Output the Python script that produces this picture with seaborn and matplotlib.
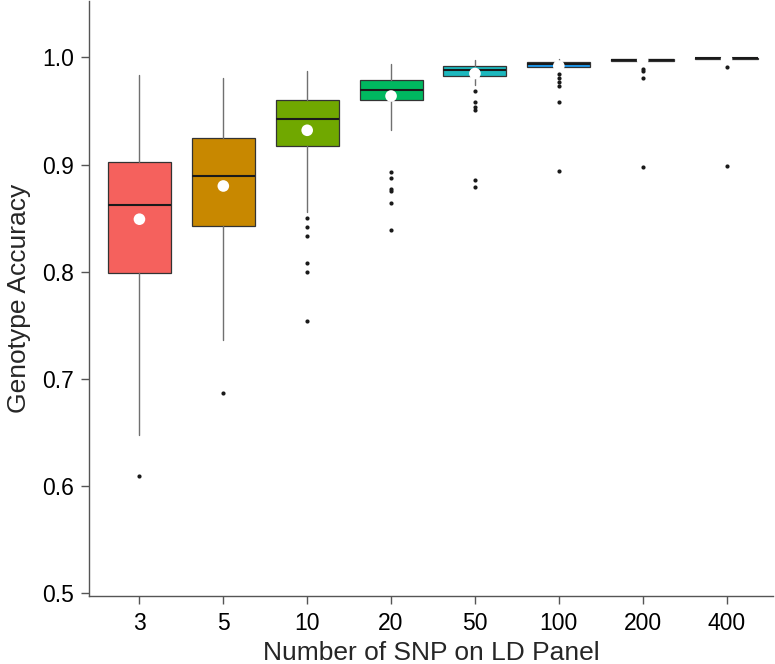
import matplotlib.pyplot as plt
import seaborn as sns

# LD panel sizes and the box statistics
panels = ["3", "5", "10", "20", "50", "100", "200", "400"]
whisker_low = [0.648, 0.736, 0.856, 0.932, 0.974, 0.988, 0.995, 0.998]
q1 = [0.799, 0.843, 0.917, 0.960, 0.983, 0.991, 0.9970, 0.9988]
median = [0.862, 0.889, 0.943, 0.970, 0.988, 0.994, 0.9978, 0.9992]
q3 = [0.902, 0.925, 0.960, 0.979, 0.992, 0.996, 0.9985, 0.9996]
whisker_high = [0.984, 0.981, 0.987, 0.994, 0.998, 0.999, 1.000, 1.000]
means = [0.849, 0.880, 0.932, 0.964, 0.985, 0.992, 0.9975, 0.9985]
outliers = [
    [0.609],
    [0.687],
    [0.850, 0.842, 0.833, 0.808, 0.800, 0.754],
    [0.893, 0.887, 0.877, 0.875, 0.864, 0.839],
    [0.969, 0.958, 0.954, 0.951, 0.886, 0.879],
    [0.985, 0.981, 0.977, 0.973, 0.958, 0.894],
    [0.989, 0.987, 0.981, 0.898],
    [0.991, 0.899],
]
colors = ["#F5615D", "#C88800", "#70A800", "#00B860",
          "#1CB8BE", "#1E9AF0", "#C77CFF", "#FF61CC"]

sns.set_style("ticks")
plt.rcParams['font.family'] = ['Liberation Sans', 'DejaVu Sans']

fig, ax = plt.subplots(figsize=(7.75, 6.64), dpi=100)

stats = []
for i, p in enumerate(panels):
    stats.append(dict(label=p, whislo=whisker_low[i], q1=q1[i], med=median[i],
                      q3=q3[i], whishi=whisker_high[i], fliers=outliers[i]))

bp = ax.bxp(stats, positions=range(len(panels)), widths=0.75, patch_artist=True,
            showcaps=False, showfliers=True,
            boxprops=dict(edgecolor="#333333", linewidth=0.9),
            medianprops=dict(color="#1a1a1a", linewidth=1.5),
            whiskerprops=dict(color="#707070", linewidth=1.0),
            flierprops=dict(marker="o", markersize=3, markerfacecolor="#1a1a1a",
                            markeredgecolor="none"))
for patch, c in zip(bp['boxes'], colors):
    patch.set_facecolor(c)

sns.scatterplot(x=list(range(len(panels))), y=means, color="white", s=70,
                edgecolor="none", zorder=5, ax=ax)

ax.set_xlim(-0.6, 7.55)
ax.set_ylim(0.497, 1.053)
ax.set_yticks([0.5, 0.6, 0.7, 0.8, 0.9, 1.0])
ax.set_yticklabels(["0.5", "0.6", "0.7", "0.8", "0.9", "1.0"])
ax.set_xticks(range(len(panels)))
ax.set_xticklabels(panels)
ax.tick_params(axis="both", labelsize=16.5, length=6, width=1, color="#555555",
               labelcolor="black", pad=5)
for side in ["left", "bottom"]:
    ax.spines[side].set_color("#555555")
    ax.spines[side].set_linewidth(1.0)
sns.despine(ax=ax)

ax.set_xlabel("Number of SNP on LD Panel", fontsize=19, labelpad=5)
ax.set_ylabel("Genotype Accuracy", fontsize=19, labelpad=8)

fig.subplots_adjust(left=0.115, right=0.997, top=0.999, bottom=0.102)
fig.savefig("out.png", dpi=100)
plt.close(fig)
